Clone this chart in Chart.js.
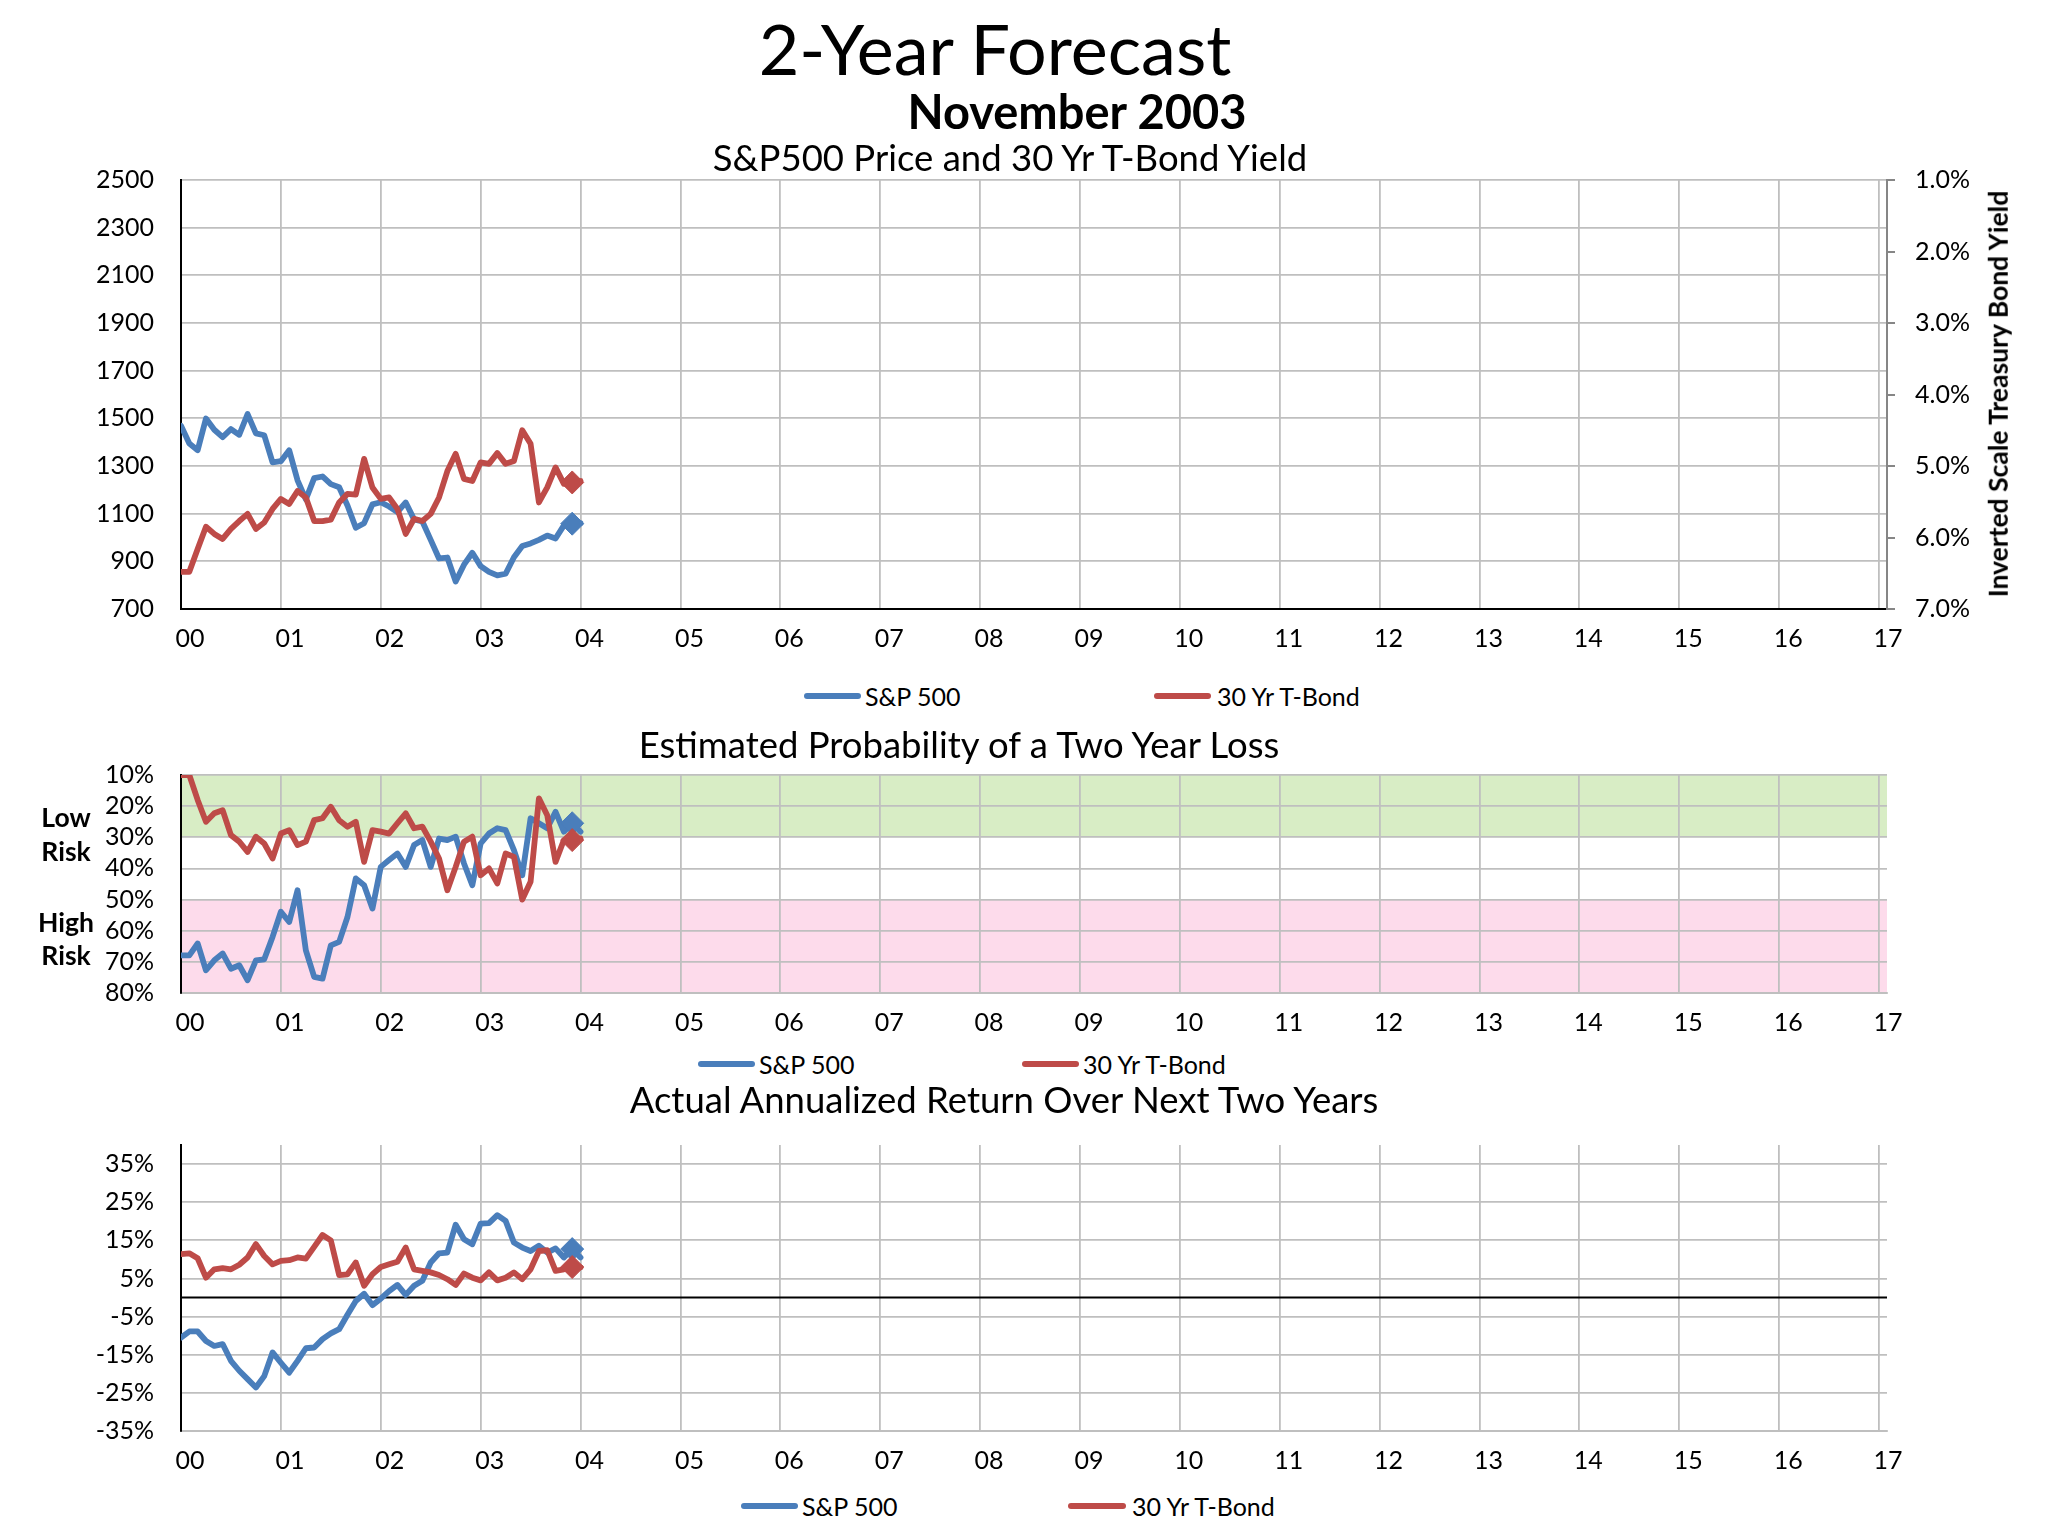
<!DOCTYPE html>
<html><head><meta charset="utf-8">
<script src="https://cdn.jsdelivr.net/npm/chart.js@4.4.0/dist/chart.umd.min.js"></script>
<style>
html,body{margin:0;padding:0;background:#fff;}
#page{position:relative;width:2048px;height:1536px;overflow:hidden;font-family:Lato,'Open Sans',sans-serif;color:#000;}
canvas{position:absolute;left:0;}
.t{position:absolute;white-space:nowrap;transform:translate(-50%,-50%);line-height:1;z-index:5;}
.b{font-weight:bold;}
.leg{position:absolute;height:6px;border-radius:3px;transform:translateY(-50%);z-index:5;}
.lt{position:absolute;white-space:nowrap;transform:translateY(-50%);font-size:25px;line-height:1;z-index:5;}
.vt{position:absolute;white-space:nowrap;transform:translate(-50%,-50%) rotate(-90deg);font-weight:bold;font-size:26.5px;line-height:1;z-index:5;}
</style></head>
<body><div id="page">
<canvas id="c1" width="2048" height="520" style="top:135px;width:2048px;height:520px"></canvas>
<canvas id="c2" width="2048" height="309" style="top:730px;width:2048px;height:309px"></canvas>
<canvas id="c3" width="2048" height="377" style="top:1100px;width:2048px;height:377px"></canvas>

<div class="t" style="left:995px;top:48px;font-size:70px">2-Year Forecast</div>
<div class="t b" style="left:1077px;top:111px;font-size:47px">November 2003</div>
<div class="t" style="left:1010px;top:157px;font-size:36.5px">S&amp;P500 Price and 30 Yr T-Bond Yield</div>
<div class="vt" style="left:1998px;top:394px">Inverted Scale Treasury Bond Yield</div>

<div class="leg" style="left:804px;top:696px;width:57px;background:#4A7EBB"></div>
<div class="lt" style="left:865px;top:696px">S&amp;P 500</div>
<div class="leg" style="left:1154px;top:696px;width:57px;background:#BE4B48"></div>
<div class="lt" style="left:1217px;top:696px">30 Yr T-Bond</div>

<div class="t" style="left:959px;top:744px;font-size:36.5px">Estimated Probability of a Two Year Loss</div>
<div class="t b" style="left:66px;top:817px;font-size:26.5px">Low</div>
<div class="t b" style="left:66px;top:851px;font-size:26.5px">Risk</div>
<div class="t b" style="left:66px;top:922px;font-size:26.5px">High</div>
<div class="t b" style="left:66px;top:955px;font-size:26.5px">Risk</div>

<div class="leg" style="left:698px;top:1064px;width:57px;background:#4A7EBB"></div>
<div class="lt" style="left:759px;top:1064px">S&amp;P 500</div>
<div class="leg" style="left:1022px;top:1064px;width:57px;background:#BE4B48"></div>
<div class="lt" style="left:1083px;top:1064px">30 Yr T-Bond</div>

<div class="t" style="left:1004px;top:1099px;font-size:36.5px">Actual Annualized Return Over Next Two Years</div>

<div class="leg" style="left:741px;top:1506px;width:57px;background:#4A7EBB"></div>
<div class="lt" style="left:802px;top:1506px">S&amp;P 500</div>
<div class="leg" style="left:1068px;top:1506px;width:58px;background:#BE4B48"></div>
<div class="lt" style="left:1132px;top:1506px">30 Yr T-Bond</div>
</div>
<script>
// ---------- DATA (monthly, Dec 1999 .. Dec 2003) ----------
const xTickLabels = ['00','01','02','03','04','05','06','07','08','09','10','11','12','13','14','15','16','17'];
const currentIndex = 47; // November 2003 marker

const spPrice = [1469,1394,1366,1499,1452,1421,1455,1431,1518,1437,1429,1315,1320,1366,1240,1160,1249,1256,1224,1211,1134,1041,1060,1139,1148,1130,1107,1147,1076,1067,990,912,916,815,886,936,880,856,841,848,917,964,975,990,1008,996,1051,1058,1060];
const bondYield = [6.48,6.48,6.16,5.85,5.95,6.02,5.88,5.77,5.67,5.88,5.79,5.60,5.46,5.53,5.35,5.44,5.77,5.77,5.75,5.51,5.39,5.40,4.90,5.30,5.46,5.44,5.60,5.95,5.74,5.77,5.67,5.44,5.07,4.83,5.18,5.21,4.95,4.97,4.82,4.97,4.93,4.50,4.69,5.51,5.30,5.02,5.25,5.23,5.21];

const spLossProb = [67.9,67.9,64.1,72.7,69.5,67.3,72.2,71.1,75.9,69.5,69.2,62.0,53.9,57.2,47.0,66.3,74.8,75.4,64.7,63.6,55.6,43.2,45.4,52.9,39.5,37.3,35.2,39.5,32.5,30.9,39.5,30.4,30.9,29.8,38.4,45.4,32.0,28.8,27.1,27.7,34.1,42.2,23.9,25.5,27.1,21.8,28.2,25.5,28.2];
const bondLossProb = [10,10,18.0,25.0,22.3,21.3,29.3,31.4,34.7,29.8,32.0,36.8,28.8,27.7,32.5,31.4,24.5,23.9,20.2,24.5,26.6,25.0,37.9,27.7,28.2,28.8,25.5,22.3,27.1,26.6,31.4,36.8,47.0,39.5,31.4,29.8,42.2,40.0,44.8,35.2,36.3,50.0,44.3,17.5,22.9,37.9,30.9,30.9,30.4];

const spReturn = [-10.5,-8.9,-8.9,-11.4,-12.7,-12.2,-16.6,-19.2,-21.4,-23.6,-20.6,-14.4,-17.1,-19.7,-16.6,-13.3,-13.1,-10.9,-9.4,-8.3,-4.5,-0.9,1.0,-2.0,-0.3,1.7,3.3,0.7,3.1,4.4,9.2,11.6,11.8,19.1,15.3,14.0,19.4,19.5,21.6,20.1,14.4,13.1,12.2,13.6,11.8,12.9,10.5,12.7,10.5];
const bondReturn = [11.4,11.6,10.3,5.2,7.4,7.7,7.4,8.6,10.5,14.0,10.9,8.7,9.6,9.8,10.5,10.2,13.3,16.4,15.0,5.9,6.1,9.2,3.1,6.1,8.0,8.7,9.4,13.1,7.4,7.0,6.6,5.9,4.8,3.3,6.3,5.2,4.5,6.6,4.5,5.2,6.6,4.8,7.4,12.2,12.4,7.0,7.4,8.0,7.9];

const priceTicks = [700,900,1100,1300,1500,1700,1900,2100,2300,2500];
const yieldTicks = [1,2,3,4,5,6,7];
const probTicks = [10,20,30,40,50,60,70,80];
const returnTicks = [-35,-25,-15,-5,5,15,25,35];
const lowRiskBand = [10,30];
const highRiskBand = [50,80];

// ---------- STYLE ----------
const BLUE = '#4A7EBB', RED = '#BE4B48', GRID = '#bfbfbf';
const X_MAX = 17.08;
Chart.defaults.font.family = 'Lato, "Open Sans", sans-serif';
Chart.defaults.font.size = 25;
Chart.defaults.color = '#000';

const pts = arr => arr.map((v,i)=>({x:i/12, y:v}));
const cur = arr => [{x:currentIndex/12, y:arr[currentIndex]}];

function lineDS(label, arr, color, axis, order){
  return {label, data:pts(arr), yAxisID:axis, borderColor:color, backgroundColor:color,
    borderWidth:5.8, pointRadius:0, tension:0, borderCapStyle:'round', borderJoinStyle:'round', fill:false, order};
}
function markDS(label, arr, color, axis, order){
  return {label, data:cur(arr), yAxisID:axis, showLine:false, pointStyle:'rectRot', pointRadius:11.5,
    pointBorderWidth:1, pointBackgroundColor:color, pointBorderColor:color, borderColor:color, backgroundColor:color, order};
}
function xScale(borderColor){
  return {type:'linear', min:0, max:X_MAX,
    afterBuildTicks:s=>{ s.ticks = xTickLabels.map((l,i)=>({value:i})); },
    afterFit:s=>{ s.height = 46; },
    ticks:{callback:v=>xTickLabels[Math.round(v)], padding:15, labelOffset:9, maxRotation:0, autoSkip:false},
    grid:{color:GRID, lineWidth:1.8, drawTicks:false},
    border:{color:borderColor, width:2}};
}
function yScale(min,max,ticks,fmt,reverse){
  return {position:'left', min, max, reverse:!!reverse,
    afterBuildTicks:s=>{ s.ticks = ticks.map(v=>({value:v})); },
    afterFit:s=>{ s.width = 181; },
    ticks:{callback:fmt, padding:27, autoSkip:false},
    grid:{color:GRID, lineWidth:1.8, drawTicks:false},
    border:{color:'#000', width:2}};
}
const common = {responsive:false, animation:false, devicePixelRatio:1,
  plugins:{legend:{display:false}, tooltip:{enabled:false}, filler:{drawTime:'beforeDraw'}}};

// ---------- Chart 1 ----------
new Chart(document.getElementById('c1'), {
  type:'line',
  data:{datasets:[
    markDS('30 Yr T-Bond (Nov 2003)', bondYield, RED, 'y2', 0),
    markDS('S&P 500 (Nov 2003)', spPrice, BLUE, 'y', 1),
    lineDS('30 Yr T-Bond', bondYield, RED, 'y2', 2),
    lineDS('S&P 500', spPrice, BLUE, 'y', 3)
  ]},
  options:Object.assign({}, common, {
    layout:{padding:{top:45,left:0,right:0,bottom:0}},
    scales:{
      x:xScale('#000'),
      y:yScale(700,2500,priceTicks,v=>String(v)),
      y2:{position:'right', min:1, max:7, reverse:true,
        afterBuildTicks:s=>{ s.ticks = yieldTicks.map(v=>({value:v})); },
        afterFit:s=>{ s.width = 2048-1887; },
        ticks:{callback:v=>v.toFixed(1)+'%', padding:20, autoSkip:false},
        grid:{drawOnChartArea:false, drawTicks:true, tickLength:8, color:'#868686', lineWidth:2},
        border:{color:'#868686', width:2}}
    }
  })
});

// ---------- Chart 2 ----------
new Chart(document.getElementById('c2'), {
  type:'line',
  data:{datasets:[
    markDS('30 Yr T-Bond (Nov 2003)', bondLossProb, RED, 'y', 0),
    markDS('S&P 500 (Nov 2003)', spLossProb, BLUE, 'y', 1),
    lineDS('30 Yr T-Bond', bondLossProb, RED, 'y', 2),
    lineDS('S&P 500', spLossProb, BLUE, 'y', 3),
    {label:'Low Risk', data:[{x:0,y:lowRiskBand[1]},{x:X_MAX,y:lowRiskBand[1]}], fill:{value:lowRiskBand[0]},
      backgroundColor:'rgb(216,237,197)', borderColor:'rgba(0,0,0,0)', borderWidth:0, pointRadius:0, order:10},
    {label:'High Risk', data:[{x:0,y:highRiskBand[0]},{x:X_MAX,y:highRiskBand[0]}], fill:{value:highRiskBand[1]},
      backgroundColor:'rgb(253,219,235)', borderColor:'rgba(0,0,0,0)', borderWidth:0, pointRadius:0, order:11}
  ]},
  options:Object.assign({}, common, {
    layout:{padding:{top:45,left:0,right:2048-1887,bottom:0}},
    scales:{
      x:xScale(GRID),
      y:yScale(10,80,probTicks,v=>v+'%',true)
    }
  })
});

// ---------- Chart 3 ----------
new Chart(document.getElementById('c3'), {
  type:'line',
  data:{datasets:[
    markDS('30 Yr T-Bond (Nov 2003)', bondReturn, RED, 'y', 0),
    markDS('S&P 500 (Nov 2003)', spReturn, BLUE, 'y', 1),
    lineDS('30 Yr T-Bond', bondReturn, RED, 'y', 2),
    lineDS('S&P 500', spReturn, BLUE, 'y', 3),
    {label:'zero', data:[{x:0,y:0},{x:X_MAX,y:0}], borderColor:'#000', borderWidth:2, pointRadius:0, fill:false, order:20}
  ]},
  options:Object.assign({}, common, {
    layout:{padding:{top:45,left:0,right:2048-1887,bottom:0}},
    scales:{
      x:xScale(GRID),
      y:yScale(-35,40,returnTicks,v=>v+'%')
    }
  })
});
</script>
</body></html>
